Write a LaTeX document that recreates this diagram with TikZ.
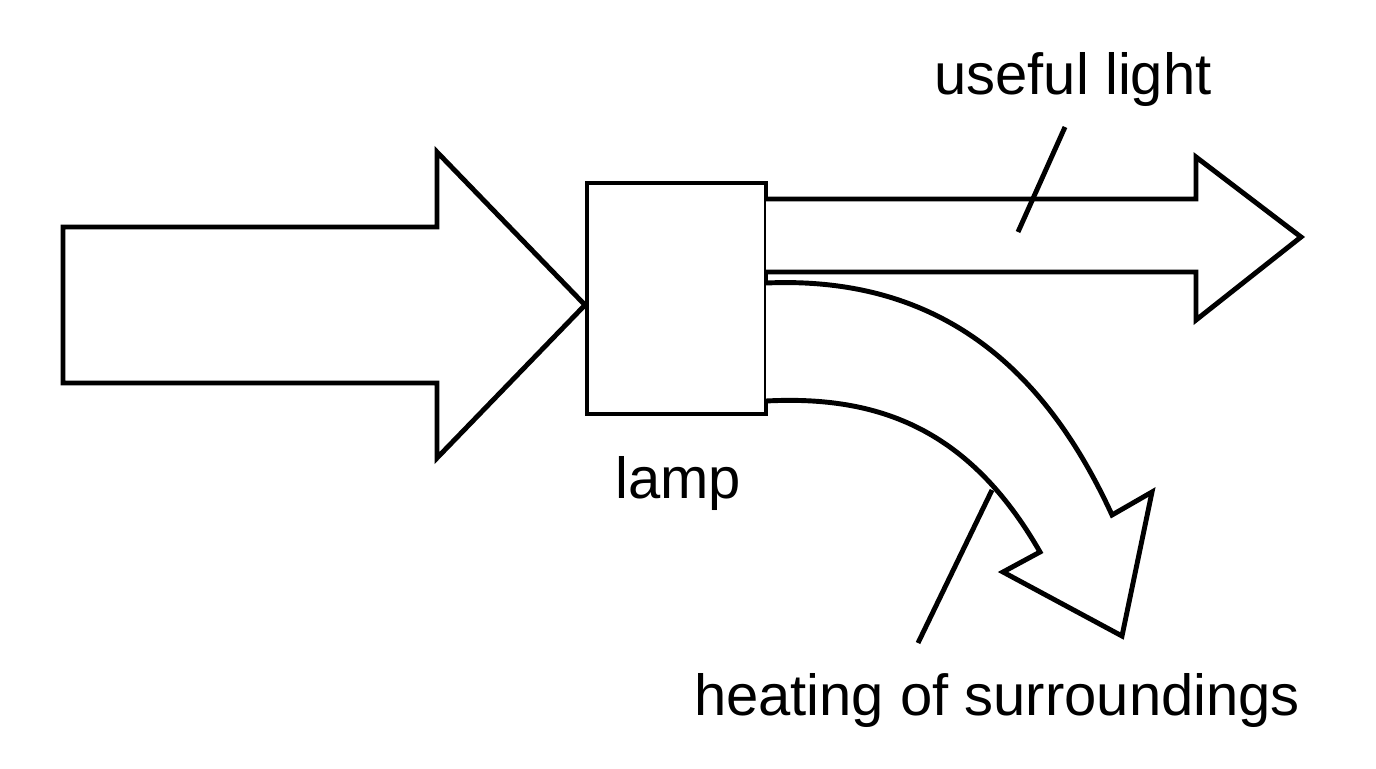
\documentclass[tikz,border=0pt]{standalone}
\usepackage{fontspec}
\setmainfont{Liberation Sans}
\tikzstyle{outline} = [line width=2.8pt, line join=miter, draw=black, fill=white]
\tikzstyle{label} = [font=\fontsize{33}{38}\selectfont, inner sep=0pt]
\tikzstyle{leader} = [line width=2.8pt]

\begin{document}
\begin{tikzpicture}[x=0.02cm, y=-0.02cm]

\useasboundingbox (0,0) rectangle (1376,768);

% energy input
\draw [outline] (63,227) -- (437,227) -- (437,152) -- (585,305) -- (437,458) -- (437,383) -- (63,383) -- cycle;

% lamp
\draw [outline] (587,183) rectangle (766,414);

% useful light
\draw [outline] (766,199) -- (1196,199) -- (1196,157) -- (1301,237) -- (1196,320) -- (1196,272) -- (766,272);

% heating
\draw [outline] (766,283) .. controls (950,275) and (1050,380) .. (1112,515) -- (1152,492) -- (1122,636) -- (1003,572) -- (1040,552) .. controls (970,430) and (880,395) .. (766,401);

\node (light) [label] at (1073,80) {useful light};
\node (lamp) [label] at (678,483) {lamp};
\node (heat) [label] at (997,700) {heating of surroundings};

\coordinate (lightend) at (1018,232);
\coordinate (heatend) at (992,490);
\draw [leader] (1065,127) -- (lightend);
\draw [leader] (918,643) -- (heatend);

\end{tikzpicture}
\end{document}
